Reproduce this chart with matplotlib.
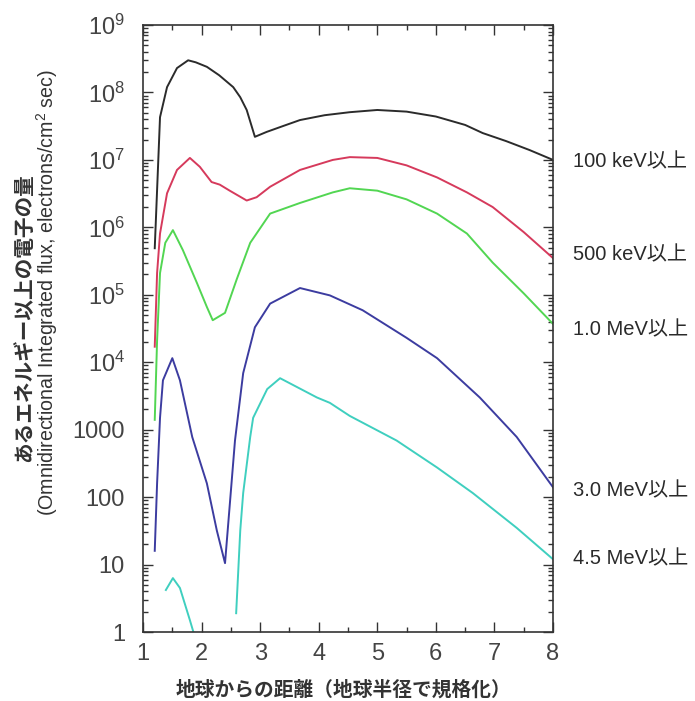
import matplotlib
matplotlib.use("Agg")
import matplotlib.pyplot as plt
import matplotlib.transforms as mtransforms
from matplotlib.ticker import FixedLocator, FixedFormatter, LogLocator, NullFormatter, MultipleLocator

plt.rcParams["font.family"] = ["Liberation Sans", "Noto Sans CJK JP"]
plt.rcParams["mathtext.fontset"] = "custom"
plt.rcParams["mathtext.rm"] = "Liberation Sans"
plt.rcParams["mathtext.default"] = "regular"

# ── データ (地球半径で規格化した距離 / フラックス) ─────────────────────
x_100kev = [1.20, 1.29, 1.41, 1.58, 1.77, 1.90, 2.09, 2.30, 2.54, 2.66, 2.77, 2.91,
            3.11, 3.40, 3.68, 4.10, 4.53, 5.00, 5.50, 6.00, 6.50, 6.80, 7.20, 7.60, 8.00]
y_100kev = [4.9e5, 4.3e7, 1.2e8, 2.3e8, 3.0e8, 2.8e8, 2.4e8, 1.8e8, 1.2e8, 8.5e7, 5.5e7, 2.2e7,
            2.6e7, 3.2e7, 3.9e7, 4.6e7, 5.1e7, 5.5e7, 5.2e7, 4.4e7, 3.3e7, 2.5e7, 1.9e7, 1.4e7, 1.0e7]

x_500kev = [1.20, 1.24, 1.29, 1.41, 1.58, 1.80, 1.97, 2.17, 2.31, 2.48, 2.77, 2.94,
            3.17, 3.68, 4.24, 4.53, 5.00, 5.50, 6.02, 6.53, 6.97, 7.50, 8.00]
y_500kev = [1.7e4, 2.1e5, 8.1e5, 3.2e6, 7.1e6, 1.07e7, 7.9e6, 4.7e6, 4.3e6, 3.5e6, 2.5e6, 2.8e6,
            4.0e6, 7.1e6, 1.0e7, 1.1e7, 1.07e7, 8.3e6, 5.5e6, 3.3e6, 2.0e6, 8.5e5, 3.5e5]

x_1mev = [1.20, 1.24, 1.29, 1.38, 1.51, 1.68, 1.92, 2.09, 2.19, 2.40, 2.60, 2.83,
          3.17, 3.68, 4.24, 4.53, 5.00, 5.50, 6.02, 6.53, 6.97, 7.50, 8.00]
y_1mev = [1.4e3, 2.1e4, 2.1e5, 5.9e5, 9.1e5, 4.6e5, 1.5e5, 6.6e4, 4.2e4, 5.4e4, 1.7e5, 5.9e5,
          1.6e6, 2.3e6, 3.3e6, 3.8e6, 3.5e6, 2.6e6, 1.6e6, 8.1e5, 3.0e5, 1.05e5, 3.7e4]

x_3mev = [1.20, 1.24, 1.29, 1.34, 1.50, 1.63, 1.84, 2.09, 2.26, 2.40, 2.57, 2.71,
          2.91, 3.17, 3.68, 4.19, 4.75, 5.50, 6.02, 6.75, 7.38, 8.00]
y_3mev = [16, 160, 1.5e3, 5.4e3, 1.15e4, 5.4e3, 780, 160, 32, 10.5, 690, 6.9e3,
          3.3e4, 7.4e4, 1.26e5, 9.8e4, 5.9e4, 2.3e4, 1.15e4, 3.0e3, 780, 140]

# 4.5 MeV は途中で途切れる (2本に分割)
x_45mev_a = [1.39, 1.51, 1.63, 1.80, 1.86]
y_45mev_a = [4.2, 6.3, 4.5, 1.5, 1.0]
x_45mev_b = [2.59, 2.66, 2.71, 2.83, 2.88, 3.12, 3.34, 3.97, 4.19, 4.53, 5.33,
             6.02, 6.63, 7.38, 8.00]
y_45mev_b = [1.9, 32, 115, 780, 1.5e3, 4.0e3, 5.8e3, 3.0e3, 2.5e3, 1.6e3, 690,
             275, 115, 35, 12]

energy_labels = ["100 keV以上", "500 keV以上", "1.0 MeV以上", "3.0 MeV以上", "4.5 MeV以上"]
label_y = [9.3e6, 3.9e5, 3.0e4, 126, 12.3]

y_ticks = [1, 10, 100, 1000, 1e4, 1e5, 1e6, 1e7, 1e8, 1e9]
y_ticklabels = ["1", "10", "100", "1000", "10$^{4}$", "10$^{5}$", "10$^{6}$",
                "10$^{7}$", "10$^{8}$", "10$^{9}$"]


def fit_length(fig, txt, target_px, vertical=True):
    """テキストの長さ (px) が target_px になるようにフォントサイズを調整"""
    fig.canvas.draw()
    bb = txt.get_window_extent(renderer=fig.canvas.get_renderer())
    cur = bb.height if vertical else bb.width
    txt.set_fontsize(txt.get_fontsize() * target_px / cur)


# ── 描画 ───────────────────────────────────────────────────────────────
fig = plt.figure(figsize=(6.95, 7.01), dpi=100)
ax = fig.add_axes([0.2058, 0.0984, 0.5899, 0.8659])

lw = 1.4
ax.plot(x_100kev, y_100kev, color="#2b2b2b", lw=lw)
ax.plot(x_500kev, y_500kev, color="#d63a5c", lw=lw)
ax.plot(x_1mev, y_1mev, color="#52d652", lw=lw)
ax.plot(x_3mev, y_3mev, color="#3c3ca0", lw=lw)
ax.plot(x_45mev_a, y_45mev_a, color="#3fcfbf", lw=lw)
ax.plot(x_45mev_b, y_45mev_b, color="#3fcfbf", lw=lw)

ax.set_yscale("log")
ax.set_xlim(1, 8)
ax.set_ylim(1, 1e9)

ax.yaxis.set_major_locator(FixedLocator(y_ticks))
ax.yaxis.set_major_formatter(FixedFormatter(y_ticklabels))
ax.yaxis.set_minor_locator(LogLocator(base=10, subs=range(2, 10), numticks=20))
ax.yaxis.set_minor_formatter(NullFormatter())
ax.xaxis.set_major_locator(MultipleLocator(1))
ax.xaxis.set_minor_locator(MultipleLocator(0.5))

for spine in ax.spines.values():
    spine.set_color("#333333")
    spine.set_linewidth(1.2)

ax.tick_params(which="both", direction="in", top=True, right=True,
               color="#333333", width=1.0)
ax.tick_params(which="major", length=7.5)
ax.tick_params(which="minor", length=3.6)
ax.tick_params(axis="y", which="major", labelsize=17, labelcolor="#444444", pad=13)
ax.tick_params(axis="x", which="major", labelsize=17, labelcolor="#444444", pad=8)

# 右側のエネルギーラベル
trans = mtransforms.blended_transform_factory(ax.transAxes, ax.transData)
for text, yv in zip(energy_labels, label_y):
    ax.text(1.048, yv, text, transform=trans, ha="left", va="center",
            fontsize=14.5, color="#2a2a2a", clip_on=False)

# 軸ラベル
yl1 = fig.text(24 / 695, 1 - 318 / 701, "あるエネルギー以上の電子の量",
               rotation=90, ha="center", va="center", fontsize=14,
               family=["Noto Sans CJK JP"], weight="bold", color="#333333")
yl2 = fig.text(47 / 695, 1 - 293 / 701,
               "(Omnidirectional Integrated flux, electrons/cm$^{2}$ sec)",
               rotation=90, ha="center", va="center", fontsize=14, color="#333333")
xl = fig.text(343 / 695, 1 - 690 / 701, "地球からの距離（地球半径で規格化）",
              ha="center", va="center", fontsize=14.5,
              family=["Noto Sans CJK JP"], weight="bold", color="#333333")
fit_length(fig, yl1, 290)
fit_length(fig, yl2, 447)
fit_length(fig, xl, 335, vertical=False)

fig.savefig("out.png", dpi=100, facecolor="white")
